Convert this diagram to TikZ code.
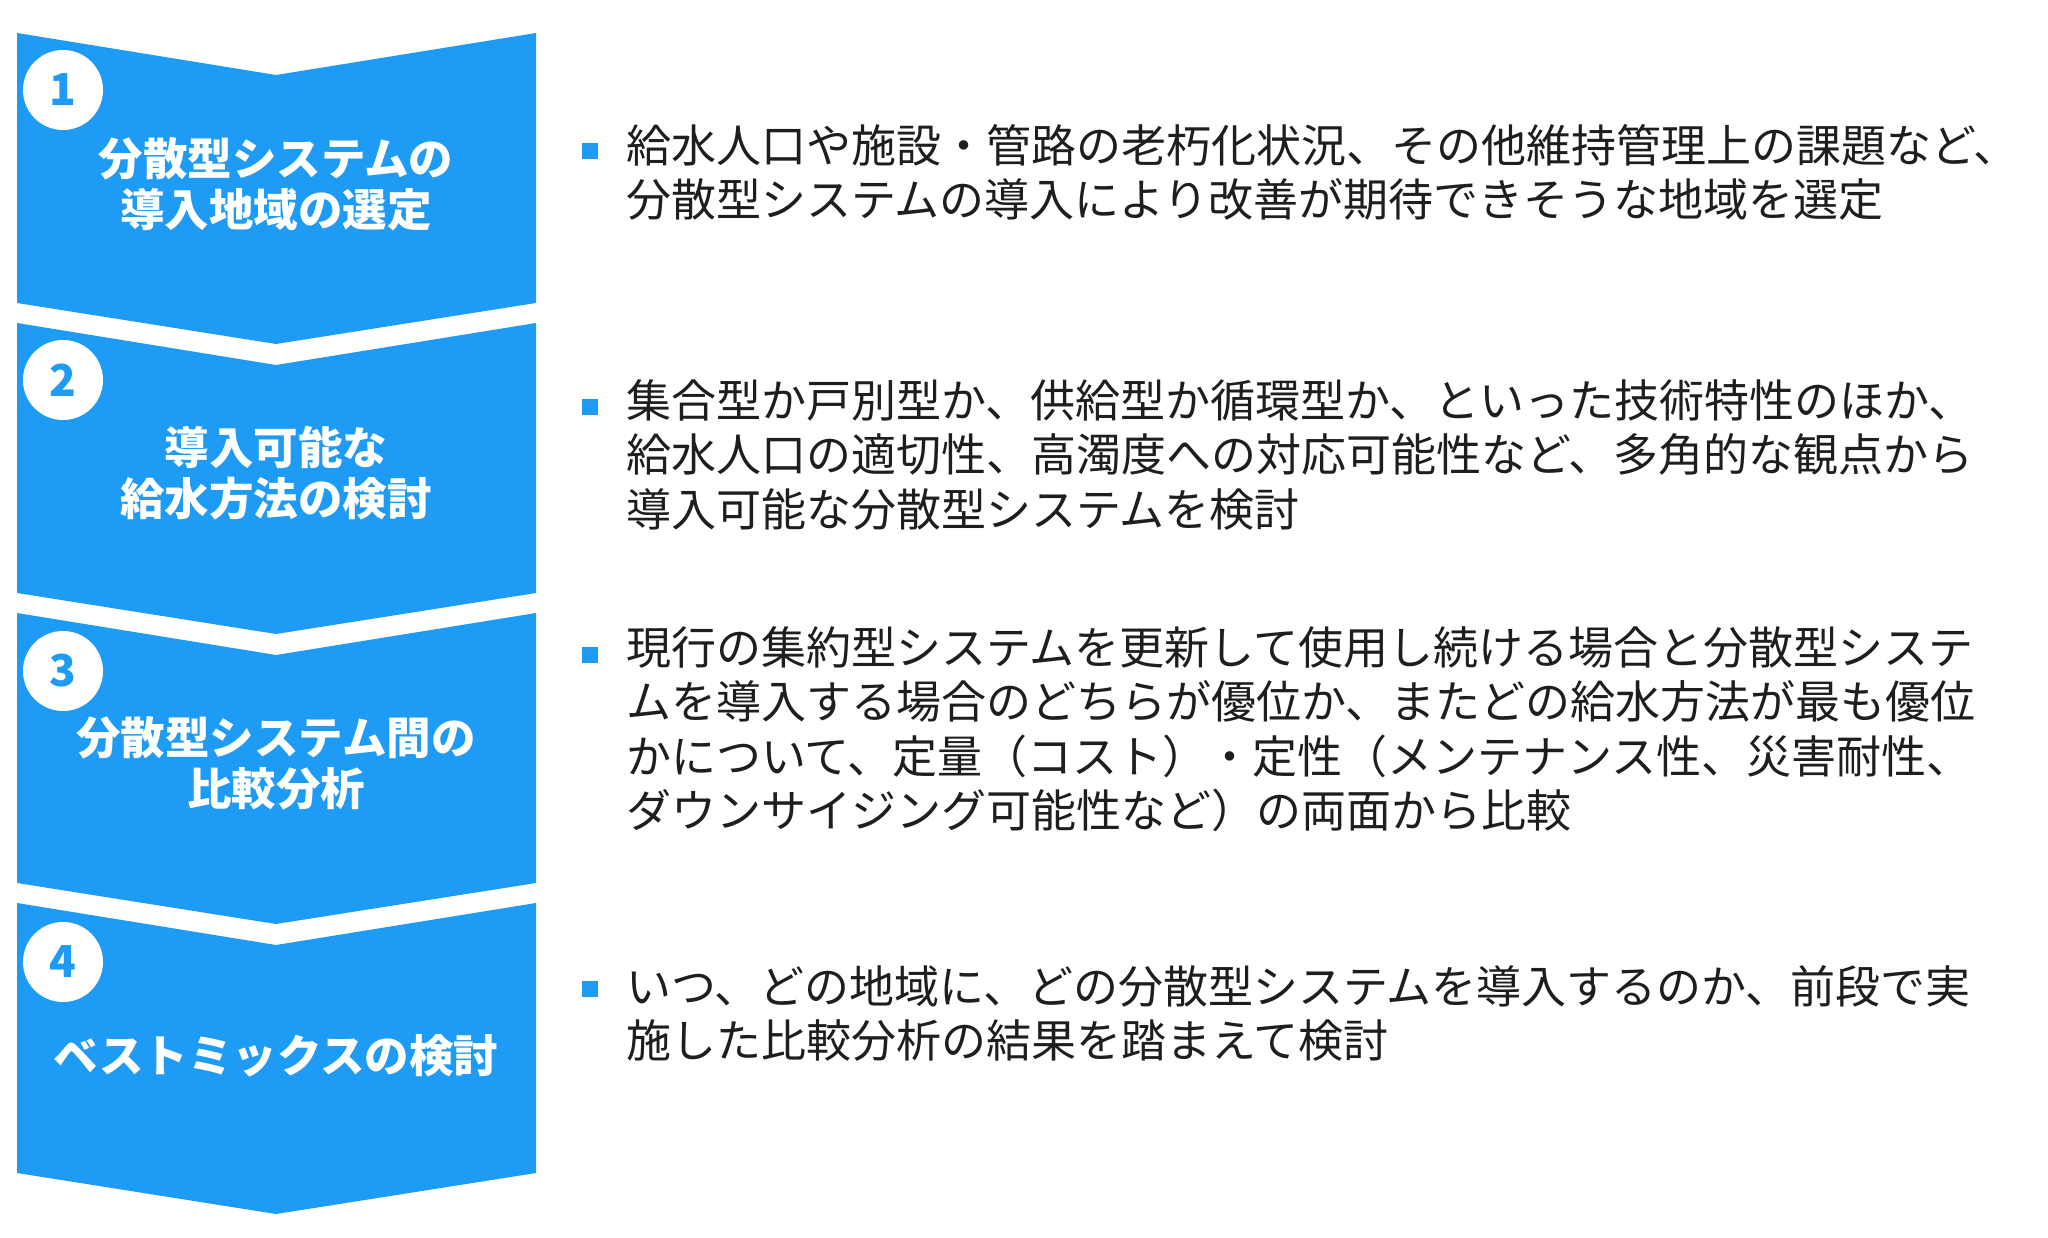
\documentclass[tikz,border=0pt]{standalone}
\usepackage{fontspec}
\setmainfont{Noto Sans CJK JP}
\usetikzlibrary{positioning}
\definecolor{stepblue}{RGB}{30,155,245}
\definecolor{bodytext}{RGB}{30,30,30}

\tikzset{
	chevron/.style={fill=stepblue},
	stepnum/.style={circle, fill=white, minimum size=80pt, inner sep=0pt, text=stepblue, font=\fontsize{44}{44}\selectfont\bfseries},
	steptitle/.style={text=white, align=center, inner sep=0pt, font=\fontsize{44.5}{51}\selectfont\bfseries},
	bulletbox/.style={fill=stepblue, minimum size=16pt, inner sep=0pt},
	desctext/.style={text=bodytext, align=left, inner sep=0pt, anchor=north west, font=\fontsize{45}{54.5}\selectfont},
}

\begin{document}
\begin{tikzpicture}[x=1pt,y=-1pt]
		\useasboundingbox (0,0) rectangle (2048,1238);
		
		%chevron panels
		\foreach \t in {33,323,613,903}
			\fill[chevron] (17,\t) -- (276,\t+42) -- (536,\t) -- (536,\t+270) -- (276,\t+311) -- (17,\t+270) -- cycle;
		
		%step 1
		\node (n1) [stepnum] at (63,90) {1};
		\node (t1) [steptitle] at (276,184) {分散型システムの\\導入地域の選定};
		\node (b1) [bulletbox] at (590,151) {};
		\node (d1) [desctext] at (626,124) {給水人口や施設・管路の老朽化状況、その他維持管理上の課題など、\\分散型システムの導入により改善が期待できそうな地域を選定};
		
		%step 2
		\node (n2) [stepnum] at (63,380) {2};
		\node (t2) [steptitle] at (276,473) {導入可能な\\給水方法の検討};
		\node (b2) [bulletbox] at (590,407) {};
		\node (d2) [desctext] at (626,379) {集合型か戸別型か、供給型か循環型か、といった技術特性のほか、\\給水人口の適切性、高濁度への対応可能性など、多角的な観点から\\導入可能な分散型システムを検討};
		
		%step 3
		\node (n3) [stepnum] at (63,671) {3};
		\node (t3) [steptitle] at (276,763) {分散型システム間の\\比較分析};
		\node (b3) [bulletbox] at (590,655) {};
		\node (d3) [desctext] at (626,626) {現行の集約型システムを更新して使用し続ける場合と分散型システ\\ムを導入する場合のどちらが優位か、またどの給水方法が最も優位\\かについて、定量（コスト）・定性（メンテナンス性、災害耐性、\\ダウンサイジング可能性など）の両面から比較};
		
		%step 4
		\node (n4) [stepnum] at (63,962) {4};
		\node (t4) [steptitle] at (276,1056) {ベストミックスの検討};
		\node (b4) [bulletbox] at (590,989) {};
		\node (d4) [desctext] at (626,965) {いつ、どの地域に、どの分散型システムを導入するのか、前段で実\\施した比較分析の結果を踏まえて検討};
\end{tikzpicture}
\end{document}
